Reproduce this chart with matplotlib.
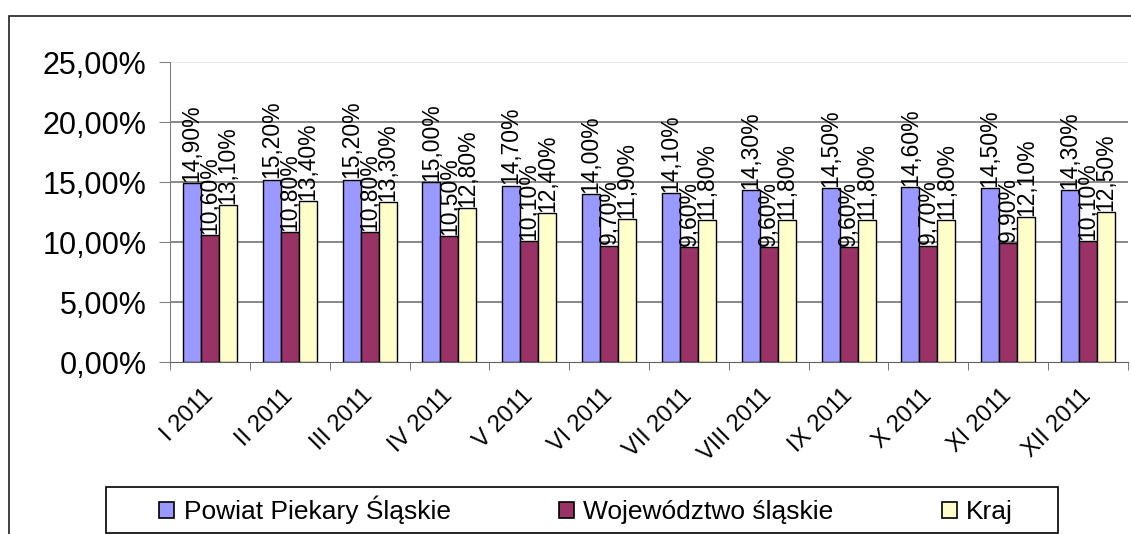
import numpy as np
import matplotlib
matplotlib.use("Agg")
import matplotlib.pyplot as plt
from matplotlib.patches import Rectangle

plt.rcParams['font.family'] = ['Liberation Sans', 'DejaVu Sans']

months = ['I 2011', 'II 2011', 'III 2011', 'IV 2011', 'V 2011', 'VI 2011',
          'VII 2011', 'VIII 2011', 'IX 2011', 'X 2011', 'XI 2011', 'XII 2011']
powiat = [14.9, 15.2, 15.2, 15.0, 14.7, 14.0, 14.1, 14.3, 14.5, 14.6, 14.5, 14.3]
wojewodztwo = [10.6, 10.8, 10.8, 10.5, 10.1, 9.7, 9.6, 9.6, 9.6, 9.7, 9.9, 10.1]
kraj = [13.1, 13.4, 13.3, 12.8, 12.4, 11.9, 11.8, 11.8, 11.8, 11.8, 12.1, 12.5]

names = ['Powiat Piekary Śląskie', 'Województwo śląskie', 'Kraj']
colors = ['#9999FF', '#993366', '#FFFFCC']
series = [powiat, wojewodztwo, kraj]

def pct(v):
    return f"{v:.2f}".replace('.', ',') + '%'

W, H = 1131, 534
fig = plt.figure(figsize=(W / 100, H / 100), dpi=100)
# outer chart frame (right and bottom edges fall outside the picture)
fig.patches.append(Rectangle((9 / W, -0.2), 1.2, 1.2 - 16 / H,
                             transform=fig.transFigure, fill=False,
                             edgecolor='#202020', linewidth=1.2))
# legend box
fig.patches.append(Rectangle((106 / W, 1 - 533 / H), 952 / W, 46 / H,
                             transform=fig.transFigure, fill=False,
                             edgecolor='black', linewidth=1.2))

ax = fig.add_axes([170 / W, 1 - 362 / H, 958 / W, 300 / H])
x = np.arange(len(months))
w = 0.226
for k, (vals, c, n) in enumerate(zip(series, colors, names)):
    pos = x + (k - 1) * w
    ax.bar(pos, vals, width=w, color=c, edgecolor='black', linewidth=1.0,
           label=n, zorder=3)
    for p, v in zip(pos, vals):
        ax.text(p, v + 0.1, pct(v), rotation=90, ha='center', va='bottom',
                fontsize=16.5, zorder=4)

ax.set_xlim(-0.5, len(months) - 0.5)
ax.set_ylim(0, 25)
yt = np.arange(0, 26, 5)
ax.set_yticks(yt)
ax.set_yticklabels([pct(v) for v in yt], fontsize=22)
for v in yt[1:-1]:
    ax.axhline(v, color='#808080', linewidth=1.3, zorder=0)
ax.axhline(25, color='#e6e6e6', linewidth=1.3, zorder=0)
ax.tick_params(axis='y', direction='out', length=8, color='#808080', pad=9)

ax.set_xticks(x)
ax.set_xticklabels(months, rotation=45, ha='right', va='center',
                   rotation_mode='anchor', fontsize=17)
ax.set_xticks(np.arange(-0.5, len(months), 1), minor=True)
ax.tick_params(axis='x', which='major', length=0, pad=22)
ax.tick_params(axis='x', which='minor', direction='out', length=6, color='#606060')

for s in ['top', 'right']:
    ax.spines[s].set_visible(False)
ax.spines['left'].set_color('#808080')
ax.spines['bottom'].set_color('#606060')

leg = fig.legend(loc='center', bbox_to_anchor=(586 / W, 1 - 510 / H),
                 ncol=3, fontsize=19, frameon=False,
                 handlelength=0.57, handleheight=0.57,
                 handletextpad=0.35, borderpad=0, columnspacing=4.1,
                 borderaxespad=0)
for h in leg.legend_handles:
    h.set_linewidth(1.2)

fig.savefig('out.png', dpi=100)
